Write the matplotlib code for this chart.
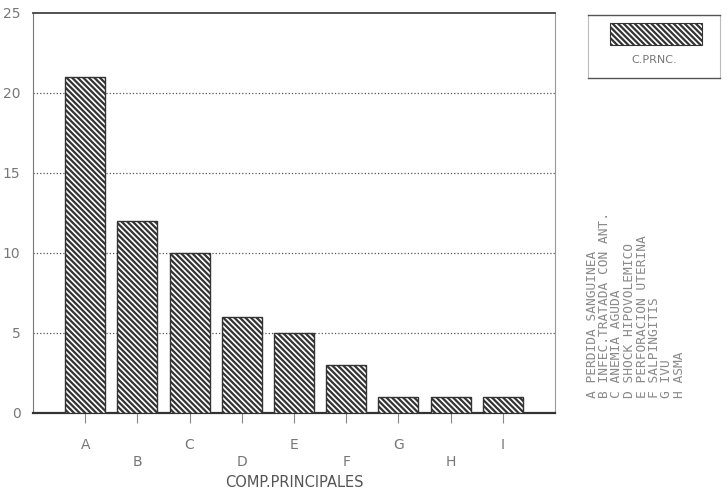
import matplotlib.pyplot as plt
from matplotlib.patches import Rectangle

plt.rcParams['hatch.linewidth'] = 1.6
plt.rcParams['hatch.color'] = '#2a2a2a'

# ---------- DATA ----------
codes = ['A', 'B', 'C', 'D', 'E', 'F', 'G', 'H', 'I']
counts = [21, 12, 10, 6, 5, 3, 1, 1, 1]
descriptions = [
    'A PERDIDA SANGUINEA',
    'B INFEC.TRATADA CON ANT.',
    'C ANEMIA AGUDA',
    'D SHOCK HIPOVOLEMICO',
    'E PERFORACION UTERINA',
    'F SALPINGITIS',
    'G IVU',
    'H ASMA',
]
yticks = [0, 5, 10, 15, 20, 25]

HATCH = '\\' * 6

fig = plt.figure(figsize=(7.27, 5.03), dpi=100)
ax = fig.add_axes([33 / 727, 1 - 413 / 503, 522 / 727, 400 / 503])

xs = list(range(len(codes)))
ax.bar(xs, counts, width=0.77, color='white', edgecolor='#333333',
       linewidth=1.0, hatch=HATCH, zorder=3)

ax.set_xlim(-1, 9)
ax.set_ylim(0, 25)
ax.set_yticks(yticks)
ax.set_yticklabels([str(v) for v in yticks], color='#777777', fontsize=10)
ax.tick_params(axis='y', length=0, pad=9)

# staggered category labels
xlabels = [c if i % 2 == 0 else '\n' + c for i, c in enumerate(codes)]
ax.set_xticks(xs)
ax.set_xticklabels(xlabels, color='#777777', fontsize=10, linespacing=1.3)
ax.tick_params(axis='x', length=7, width=0.8, color='#888888', pad=11)

ax.set_xlabel('COMP.PRINCIPALES', color='#555555', fontsize=10.5, labelpad=4)

for y in yticks[1:-1]:
    ax.axhline(y, color='#555555', linestyle=':', linewidth=0.9, zorder=1)

ax.spines['top'].set_color('#444444')
ax.spines['top'].set_linewidth(1.3)
ax.spines['bottom'].set_color('#333333')
ax.spines['bottom'].set_linewidth(1.6)
ax.spines['left'].set_color('#777777')
ax.spines['left'].set_linewidth(0.8)
ax.spines['right'].set_color('#999999')
ax.spines['right'].set_linewidth(0.8)

# ---------- LEGEND (box with hatched patch and label below) ----------
lax = fig.add_axes([588 / 727, 1 - 78 / 503, 132 / 727, 63 / 503])
lax.set_xlim(0, 1)
lax.set_ylim(0, 1)
lax.set_xticks([])
lax.set_yticks([])
for side in ['left', 'right']:
    lax.spines[side].set_color('#bbbbbb')
    lax.spines[side].set_linewidth(0.8)
for side in ['top', 'bottom']:
    lax.spines[side].set_color('#555555')
    lax.spines[side].set_linewidth(1.0)
lax.add_patch(Rectangle((0.17, 0.52), 0.69, 0.35, facecolor='white',
                        edgecolor='#333333', linewidth=0.8, hatch=HATCH))
lax.text(0.5, 0.28, 'C.PRNC.', ha='center', va='center', fontsize=8,
         color='#777777')

# ---------- ROTATED DESCRIPTION LIST ----------
for i, d in enumerate(descriptions):
    fig.text((592 + i * 12.5) / 727, 1 - 398 / 503, d, rotation=90,
             ha='center', va='bottom', family='DejaVu Sans Mono',
             fontsize=9.3, color='#8a8a8a')

fig.savefig('out.png', dpi=100)
